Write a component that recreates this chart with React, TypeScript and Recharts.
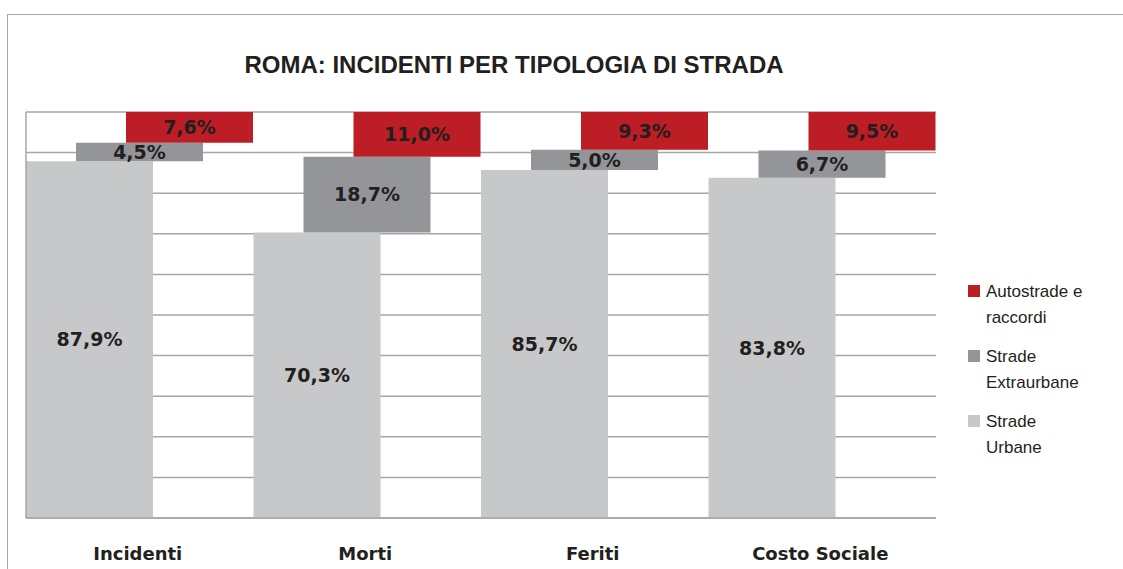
import { Bar, BarChart, CartesianGrid, LabelList, XAxis, YAxis } from "recharts";

const categories = ["Incidenti", "Morti", "Feriti", "Costo Sociale"];
const urbane = [87.9, 70.3, 85.7, 83.8];
const extraurbane = [4.5, 18.7, 5.0, 6.7];
const autostrade = [7.6, 11.0, 9.3, 9.5];
const yTicks = [0, 10, 20, 30, 40, 50, 60, 70, 80, 90, 100];

const RED = "#bd1d24";
const DARK = "#939598";
const LIGHT = "#c7c8ca";

const series = [
  { key: "aut", label: ["Autostrade e", "raccordi"], color: RED },
  { key: "ext", label: ["Strade", "Extraurbane"], color: DARK },
  { key: "urb", label: ["Strade", "Urbane"], color: LIGHT },
];

// floating bars: each type starts where the previous one ends
const data = categories.map((name, i) => {
  const a = urbane[i];
  const b = a + extraurbane[i];
  const c = b + autostrade[i];
  return {
    name,
    urb: [0, a],
    ext: [a, b],
    aut: [b, c],
    urbV: urbane[i],
    extV: extraurbane[i],
    autV: autostrade[i],
  };
});

const pct = (v: number) => `${v.toFixed(1).replace(".", ",")}%`;
const TEXT = "#231f20";
const GRID = "#a6a6a6";
const labelStyle = { fontFamily: "DejaVu Sans", fontWeight: 700, fontSize: 19, fill: TEXT };

function CategoryTick({ x, y, payload }: any) {
  return (
    <text x={x - 2} y={y} dy={34} textAnchor="middle" style={{ ...labelStyle, fontSize: 18 }}>
      {payload.value}
    </text>
  );
}

const NoTick = () => <g />;

function LegendBox() {
  return (
    <div
      style={{
        position: "absolute",
        left: 968,
        top: 279,
        fontFamily: "Liberation Sans",
        fontSize: 17,
        color: TEXT,
        lineHeight: "26px",
      }}
    >
      {series.map((s) => (
        <div key={s.key} style={{ display: "flex", marginBottom: 13 }}>
          <div style={{ width: 12, height: 12, background: s.color, marginTop: 6, marginRight: 6 }} />
          <div>
            {s.label.map((l) => (
              <div key={l}>{l}</div>
            ))}
          </div>
        </div>
      ))}
    </div>
  );
}

export default function App() {
  return (
    <div style={{ position: "absolute", left: 0, top: 0, width: 1123, height: 569, background: "#fff", overflow: "hidden" }}>
      <div
        style={{
          position: "absolute",
          left: 7,
          top: 14,
          width: 1130,
          height: 600,
          borderTop: `1.5px solid ${GRID}`,
          borderLeft: `1.5px solid ${GRID}`,
        }}
      />
      <div
        style={{
          position: "absolute",
          left: 0,
          top: 51,
          width: 1028,
          textAlign: "center",
          fontFamily: "Liberation Sans",
          fontWeight: 700,
          fontSize: 24,
          color: TEXT,
        }}
      >
        ROMA: INCIDENTI PER TIPOLOGIA DI STRADA
      </div>
      <BarChart
        width={1123}
        height={569}
        data={data}
        margin={{ top: 112, right: 187, left: 25, bottom: 0 }}
        barSize={127}
        barGap={-77}
        barCategoryGap={0}
        style={{ position: "absolute", left: 0, top: 0 }}
      >
        <CartesianGrid vertical={false} stroke={GRID} strokeWidth={1.5} />
        <XAxis
          dataKey="name"
          height={51}
          axisLine={{ stroke: GRID, strokeWidth: 1.5 }}
          tickLine={false}
          tick={<CategoryTick />}
          interval={0}
        />
        <YAxis
          width={1}
          type="number"
          domain={[0, 100]}
          ticks={yTicks}
          interval={0}
          tick={<NoTick />}
          tickLine={false}
          axisLine={{ stroke: GRID, strokeWidth: 1.5 }}
        />
        <Bar dataKey="urb" fill={LIGHT} isAnimationActive={false}>
          <LabelList dataKey="urbV" position="center" formatter={pct} style={labelStyle} />
        </Bar>
        <Bar dataKey="ext" fill={DARK} isAnimationActive={false}>
          <LabelList dataKey="extV" position="center" formatter={pct} style={labelStyle} />
        </Bar>
        <Bar dataKey="aut" fill={RED} isAnimationActive={false}>
          <LabelList dataKey="autV" position="center" formatter={pct} style={labelStyle} />
        </Bar>
      </BarChart>
      <LegendBox />
    </div>
  );
}
